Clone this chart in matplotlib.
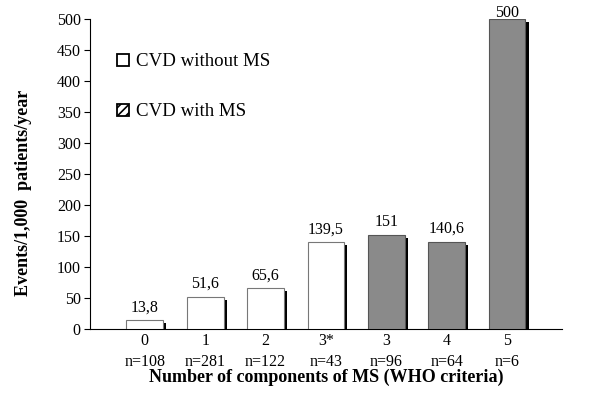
import matplotlib
matplotlib.use("Agg")
import matplotlib.pyplot as plt
from matplotlib.patches import Patch
import numpy as np

plt.rcParams['font.family'] = ['Liberation Serif', 'DejaVu Serif']
plt.rcParams['hatch.linewidth'] = 1.2

categories = ["0", "1", "2", "3*", "3", "4", "5"]
n_labels = ["n=108", "n=281", "n=122", "n=43", "n=96", "n=64", "n=6"]
values = [13.8, 51.6, 65.6, 139.5, 151, 140.6, 500]
value_labels = ["13,8", "51,6", "65,6", "139,5", "151", "140,6", "500"]
with_ms = [False, False, False, False, True, True, True]

fig = plt.figure(figsize=(6, 4.01), dpi=100)
ax = fig.add_axes([0.1508, 0.1796, 0.7859, 0.773])

x = np.arange(len(categories))
w = 0.61
sh_dx = 0.05
sh_dy = 4.5
for xi, v, ms in zip(x, values, with_ms):
    # shadow
    ax.bar(xi + w / 2 + sh_dx / 2, v - sh_dy, width=sh_dx, color='black',
           edgecolor='none', zorder=2)
    if ms:
        ax.bar(xi, v, width=w, color='#8a8a8a', edgecolor='#555555',
               linewidth=0.8, zorder=3)
    else:
        ax.bar(xi, v, width=w, color='white', edgecolor='#777777',
               linewidth=0.8, zorder=3)

ymax = 500
for xi, v, lab in zip(x, values, value_labels):
    ty = min(v + 8, ymax - 3)
    ax.text(xi, ty, lab, ha='center', va='bottom', fontsize=11.5, zorder=4)

ax.set_xlim(-0.9, 6.91)
ax.set_ylim(0, ymax)
ax.set_yticks(np.arange(0, 501, 50))
ax.set_xticks(x)
ax.set_xticklabels([f"{c}\n{n}" for c, n in zip(categories, n_labels)],
                   fontsize=11.5, linespacing=1.4)
ax.tick_params(axis='x', length=0, pad=3)
ax.tick_params(axis='y', direction='out', length=4, width=0.8, labelsize=11.5, pad=3)
for s in ['top', 'right']:
    ax.spines[s].set_visible(False)
ax.spines['left'].set_linewidth(0.8)
ax.spines['bottom'].set_linewidth(0.8)

ax.set_ylabel("Events/1,000  patients/year", fontsize=13, fontweight='bold')
ax.yaxis.set_label_coords(-0.123, 0.44)
ax.set_xlabel("Number of components of MS (WHO criteria)", fontsize=13,
              fontweight='bold', labelpad=-1)

handles = [Patch(facecolor='white', edgecolor='black', linewidth=1.3),
           Patch(facecolor='white', edgecolor='black', linewidth=1.3, hatch='////')]
ax.legend(handles, ["CVD without MS", "CVD with MS"], loc='upper left',
          bbox_to_anchor=(0.057, 0.889), frameon=False, fontsize=13.6,
          borderpad=0, borderaxespad=0,
          handlelength=0.6, handleheight=0.6, handletextpad=0.4,
          labelspacing=1.74)

fig.savefig("out.png", dpi=100)
